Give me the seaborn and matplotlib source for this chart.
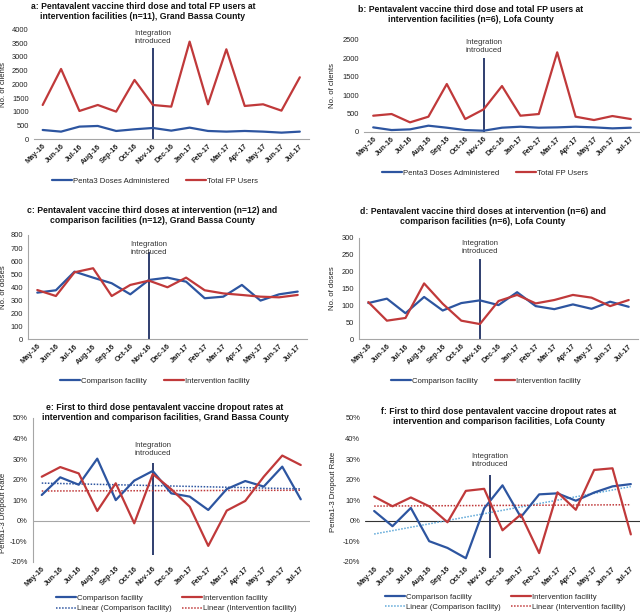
import matplotlib
matplotlib.use("Agg")
import matplotlib.pyplot as plt
from matplotlib.lines import Line2D
from matplotlib.ticker import FuncFormatter
import numpy as np
import seaborn as sns

# ---- data ----
months = ["May-16", "Jun-16", "Jul-16", "Aug-16", "Sep-16", "Oct-16", "Nov-16",
          "Dec-16", "Jan-17", "Feb-17", "Mar-17", "Apr-17", "May-17", "Jun-17", "Jul-17"]
integration_month = "Nov-16"

# a: Grand Bassa, intervention facilities
gb_penta3 = [339, 279, 461, 485, 303, 364, 412, 315, 424, 303, 279, 303, 279, 242, 279]
gb_fp_users = [1248, 2558, 1030, 1248, 1006, 2158, 1248, 1188, 3552, 1273, 3273, 1212, 1273, 1042, 2255]

# b: Lofa, intervention facilities
lofa_penta3 = [118, 45, 64, 164, 109, 45, 27, 109, 136, 109, 118, 136, 118, 91, 109]
lofa_fp_users = [436, 482, 255, 409, 1300, 345, 609, 1245, 436, 482, 2164, 409, 318, 427, 345]

# c: Grand Bassa penta3 doses
gb_comp_doses = [358, 376, 519, 473, 430, 345, 455, 473, 442, 315, 327, 417, 297, 345, 366]
gb_int_doses = [378, 332, 514, 545, 332, 417, 450, 399, 473, 376, 352, 340, 327, 322, 340]

# d: Lofa penta3 doses
lofa_comp_doses = [107, 120, 77, 125, 85, 107, 115, 101, 139, 98, 89, 103, 90, 111, 96]
lofa_int_doses = [110, 55, 63, 165, 105, 55, 45, 113, 131, 106, 116, 131, 123, 98, 116]

# e: Grand Bassa dropout rates (%)
gb_comp_dropout = [12.5, 21.1, 17.5, 30.2, 10.0, 19.5, 24.2, 13.3, 11.7, 5.2, 15.4, 19.3, 16.6, 26.3, 10.4]
gb_int_dropout = [21.4, 26.1, 23.0, 4.7, 18.2, -1.3, 22.7, 15.3, 6.8, -12.3, 4.9, 9.6, 21.4, 31.7, 27.1]

# f: Lofa dropout rates (%)
lofa_comp_dropout = [4.7, -2.7, 6.2, -10.0, -13.3, -18.3, 6.0, 17.2, 1.7, 12.8, 13.3, 9.7, 13.7, 16.7, 17.8]
lofa_int_dropout = [11.7, 7.0, 11.3, 7.0, -0.8, 14.5, 15.5, -4.7, 3.0, -15.8, 13.8, 5.3, 24.7, 25.5, -6.7]

BLUE = "#2D55A0"
RED = "#C0393A"
LIGHT_BLUE = "#5FA8D8"
NAVY = "#1F2F63"
GRAY = "#A6A6A6"
W, H = 640, 613

sns.set_theme(style="white")
plt.rcParams["font.family"] = ["Liberation Sans", "DejaVu Sans"]

fig = plt.figure(figsize=(W / 100, H / 100), dpi=100)
fig.patch.set_facecolor("white")
x = np.arange(len(months))
x_int = months.index(integration_month)


def px_axes(l, t, r, b):
    ax = fig.add_axes([l / W, 1 - b / H, (r - l) / W, (b - t) / H])
    ax.set_facecolor("none")
    ax._px = (l, t, r, b)
    return ax


def style(ax, ylim, step, ylabel, lab_x, lab_y=None, pct=False):
    ax.set_xlim(-0.5, len(months) - 0.5)
    ax.set_ylim(*ylim)
    ax.set_yticks(np.arange(ylim[0], ylim[1] + step / 2, step))
    if pct:
        ax.yaxis.set_major_formatter(FuncFormatter(lambda v, p: f"{v:.0f}%"))
    ax.set_xticks(x)
    ax.set_xticklabels(months, rotation=45, ha="right", rotation_mode="anchor",
                       fontweight="bold", fontsize=5.3)
    ax.tick_params(axis="y", length=0, labelsize=5.4, pad=3.5, colors="#222222")
    ax.tick_params(axis="x", length=0, pad=2.5, colors="#222222")
    for s in ax.spines.values():
        s.set_visible(False)
        s.set_color(GRAY)
        s.set_linewidth(0.8)
    ax.grid(False)
    ax.set_ylabel(ylabel, fontsize=5.6, color="#222222")
    l, t, r, b = ax._px
    if lab_y is None:
        lab_y = (t + b) / 2
    ax.yaxis.set_label_coords((lab_x - l) / (r - l), (b - lab_y) / (b - t))


def integration(ax, xpos, text_y, y0, y1):
    ax.vlines(xpos, y0, y1, color=NAVY, lw=1.3, zorder=1)
    ax.text(xpos, text_y, "Integration\nintroduced", ha="center", va="center",
            fontsize=5.6, color="#333333", linespacing=1.2)


def title(px_x, px_y, text):
    fig.text(px_x / W, 1 - px_y / H, text, ha="center", va="top", fontsize=6.2,
             fontweight="bold", linespacing=1.2, color="#111111")


def legend(handles, labels, px_x, px_y, ncol=2, spacing=2.2):
    fig.legend(handles, labels, loc="center", bbox_to_anchor=(px_x / W, 1 - px_y / H),
               ncol=ncol, frameon=False, fontsize=5.6, handlelength=2.6,
               handletextpad=0.1, columnspacing=spacing, labelspacing=0.35,
               borderpad=0)


def two_lines(ax, y1, y2, c1, c2):
    sns.lineplot(x=x, y=y1, ax=ax, color=c1, lw=1.6, legend=False, zorder=3)
    sns.lineplot(x=x, y=y2, ax=ax, color=c2, lw=1.6, legend=False, zorder=3)


def handle(c, ls="-", lw=1.6):
    return Line2D([], [], color=c, lw=lw, ls=ls)


DOT = (0, (1, 1))

# ---- a ----
ax = px_axes(33.5, 29.3, 309, 139.3)
two_lines(ax, gb_penta3, gb_fp_users, BLUE, RED)
style(ax, (0, 4000), 500, "No. of clients", 7)
ax.spines["bottom"].set_visible(True)
integration(ax, x_int, 3700, 0, 3320)
title(143, 2, "a: Pentavalent vaccine third dose and total FP users at\n"
               "intervention facilities (n=11), Grand Bassa County")
legend([handle(BLUE), handle(RED)], ["Penta3 Doses Administered", "Total FP Users"], 155, 181)

# ---- b ----
ax = px_axes(364, 40, 640, 131.7)
two_lines(ax, lofa_penta3, lofa_fp_users, BLUE, RED)
style(ax, (0, 2500), 500, "No. of clients", 336)
ax.spines["bottom"].set_visible(True)
integration(ax, x_int, 2323, 0, 2009)
title(471, 5, "b: Pentavalent vaccine third dose and total FP users at\n"
              "intervention facilities (n=6), Lofa County")
legend([handle(BLUE), handle(RED)], ["Penta3 Doses Administered", "Total FP Users"], 485, 173)

# ---- c ----
ax = px_axes(28, 235, 307, 339.3)
two_lines(ax, gb_comp_doses, gb_int_doses, BLUE, RED)
style(ax, (0, 800), 100, "No. of doses", 7)
ax.spines["bottom"].set_visible(True)
ax.spines["left"].set_visible(True)
integration(ax, x_int, 700, 0, 670)
title(152, 206, "c: Pentavalent vaccine third doses at intervention (n=12) and\n"
                "comparison facilities (n=12), Grand Bassa County")
legend([handle(BLUE), handle(RED)], ["Comparison facility", "Intervention facility"], 155, 381)

# ---- d ----
ax = px_axes(359, 237.7, 638, 339.3)
two_lines(ax, lofa_comp_doses, lofa_int_doses, BLUE, RED)
style(ax, (0, 300), 50, "No. of doses", 336)
ax.spines["bottom"].set_visible(True)
ax.spines["left"].set_visible(True)
integration(ax, x_int, 270, 0, 237)
title(483, 207, "d: Pentavalent vaccine third doses at intervention (n=6) and\n"
                "comparison facilities (n=6), Lofa County")
legend([handle(BLUE), handle(RED)], ["Comparison facility", "Intervention facility"], 486, 381)

# ---- e ----
ax = px_axes(32.5, 418, 310, 561.7)
ax.axhline(0, color=GRAY, lw=0.8, zorder=1)
sns.regplot(x=x, y=gb_comp_dropout, ax=ax, scatter=False, ci=None,
            line_kws=dict(color=BLUE, lw=1.1, ls=DOT, zorder=2))
sns.regplot(x=x, y=gb_int_dropout, ax=ax, scatter=False, ci=None,
            line_kws=dict(color=RED, lw=1.1, ls=DOT, zorder=2))
two_lines(ax, gb_comp_dropout, gb_int_dropout, BLUE, RED)
style(ax, (-20, 50), 10, "Penta1-3 Dropout Rate", 7, 513, pct=True)
ax.spines["left"].set_visible(True)
integration(ax, x_int, 34.7, -16.7, 28.1)
title(165, 403, "e: First to third dose pentavalent vaccine dropout rates at\n"
                "intervention and comparison facilities, Grand Bassa County")
legend([handle(BLUE), handle(BLUE, DOT, 1.1), handle(RED), handle(RED, DOT, 1.1)],
       ["Comparison facility", "Linear (Comparison facility)",
        "Intervention facility", "Linear (Intervention facility)"], 176, 603.5, spacing=1.3)

# ---- f ----
ax = px_axes(365, 418, 640, 561.7)
ax.axhline(0, color="#333333", lw=0.8, zorder=1)
sns.regplot(x=x, y=lofa_comp_dropout, ax=ax, scatter=False, ci=None,
            line_kws=dict(color=LIGHT_BLUE, lw=1.1, ls=DOT, zorder=2))
sns.regplot(x=x, y=lofa_int_dropout, ax=ax, scatter=False, ci=None,
            line_kws=dict(color=RED, lw=1.1, ls=DOT, zorder=2))
two_lines(ax, lofa_comp_dropout, lofa_int_dropout, BLUE, RED)
style(ax, (-20, 50), 10, "Penta1-3 Dropout Rate", 337, 492, pct=True)
integration(ax, x_int + 0.3, 29.1, -18.2, 22.2)
title(499, 407, "f: First to third dose pentavalent vaccine dropout rates at\n"
                "intervention and comparison facilities, Lofa County")
legend([handle(BLUE), handle(LIGHT_BLUE, DOT, 1.1), handle(RED), handle(RED, DOT, 1.1)],
       ["Comparison facility", "Linear (Comparison facility)",
        "Intervention facility", "Linear (Intervention facility)"], 505, 602, spacing=1.3)

fig.savefig("out.png", dpi=100, facecolor="white")
